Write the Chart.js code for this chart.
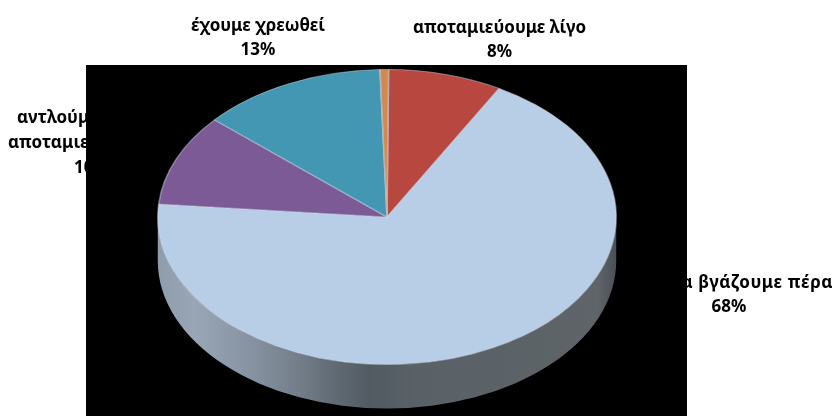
<!DOCTYPE html>
<html lang="el">
<head>
<meta charset="utf-8">
<style>
  html, body { margin: 0; padding: 0; background: #fff; }
  #wrap { width: 835px; height: 416px; position: relative; }
</style>
<script src="https://cdn.jsdelivr.net/npm/chart.js@4"></script>
</head>
<body>
<div id="wrap"><canvas id="pie" width="835" height="416"></canvas></div>
<script>
const categories = ['αποταμιεύουμε λίγο', 'τα βγάζουμε πέρα', 'αντλούμε από τις αποταμιεύσεις μας', 'έχουμε χρεωθεί', 'άλλο'];
const labelLines = [['αποταμιεύουμε λίγο'], ['τα βγάζουμε πέρα'], ['αντλούμε από τις', 'αποταμιεύσεις μας'], ['έχουμε χρεωθεί'], []];
const shares = [8, 68, 10, 13, 0.6];
const sliceColors = ['#B8483F', '#B8CDE6', '#7C5A96', '#4397B3', '#D2894F'];

// Panel behind the pie, and the flattening that gives the disc its tilt.
const panel = { left: 86, top: 65, right: 687, bottom: 416 };
const squash = 230 / 148;
const wallDepth = 44;

// One [x, y, align, letter spacing] per drawn line of each label; the share is the last line.
const labelAnchors = [
  [[499.5, 28, 'center'], [499.5, 52, 'center']],
  [[833, 283, 'right', '0.6px'], [729, 307, 'center']],
  [[17, 118, 'left'], [8, 143, 'left'], [74, 168, 'left']],
  [[258, 26, 'center'], [258, 50, 'center']],
  []
];

const tiltedPie = {
  id: 'tiltedPie',
  beforeDraw(chart) {
    const ctx = chart.ctx;
    ctx.save();
    ctx.fillStyle = '#000';
    ctx.font = 'bold 17px "Noto Sans"';
    ctx.textBaseline = 'middle';
    labelAnchors.forEach((anchors, i) => {
      const lines = [...labelLines[i], shares[i] + '%'];
      anchors.forEach(([x, y, align, spacing], n) => {
        ctx.textAlign = align;
        ctx.letterSpacing = spacing || '0px';
        ctx.fillText(lines[n], x, y);
      });
    });
    ctx.fillRect(panel.left, panel.top, panel.right - panel.left, panel.bottom - panel.top);
    ctx.restore();
  },
  beforeDatasetsDraw(chart) {
    const ctx = chart.ctx;
    const arc = chart.getDatasetMeta(0).data[0];
    const cx = arc.x, cy = arc.y, ry = arc.outerRadius, rx = ry * squash;

    // Rim of the disc, visible along its lower half.
    const wall = ctx.createLinearGradient(cx - rx, 0, cx + rx, 0);
    wall.addColorStop(0, '#8E9CAC');
    wall.addColorStop(0.08, '#98A6B6');
    wall.addColorStop(0.2, '#8793A3');
    wall.addColorStop(0.3, '#76808C');
    wall.addColorStop(0.38, '#626C76');
    wall.addColorStop(0.46, '#525B62');
    wall.addColorStop(0.56, '#596167');
    wall.addColorStop(0.96, '#5E6468');
    wall.addColorStop(1, '#4A5056');
    ctx.save();
    ctx.beginPath();
    ctx.ellipse(cx, cy, rx, ry, 0, 0, Math.PI);
    ctx.lineTo(cx - rx, cy + wallDepth);
    ctx.ellipse(cx, cy + wallDepth, rx, ry, 0, Math.PI, 0, true);
    ctx.closePath();
    ctx.fillStyle = wall;
    ctx.fill();
    ctx.restore();

    ctx.save();
    ctx.translate(cx, cy);
    ctx.scale(squash, 1);
    ctx.translate(-cx, -cy);
  },
  afterDatasetsDraw(chart) {
    chart.ctx.restore();
  }
};

new Chart(document.getElementById('pie'), {
  type: 'pie',
  data: {
    labels: categories,
    datasets: [{
      data: shares,
      backgroundColor: sliceColors,
      borderColor: 'rgba(215,225,240,0.45)',
      borderWidth: 1
    }]
  },
  options: {
    responsive: false,
    animation: false,
    rotation: 0.4,
    layout: { padding: { left: 239, right: 300, top: 69, bottom: 51 } },
    plugins: { legend: { display: false }, tooltip: { enabled: false }, title: { display: false } }
  },
  plugins: [tiltedPie]
});
</script>
</body>
</html>
